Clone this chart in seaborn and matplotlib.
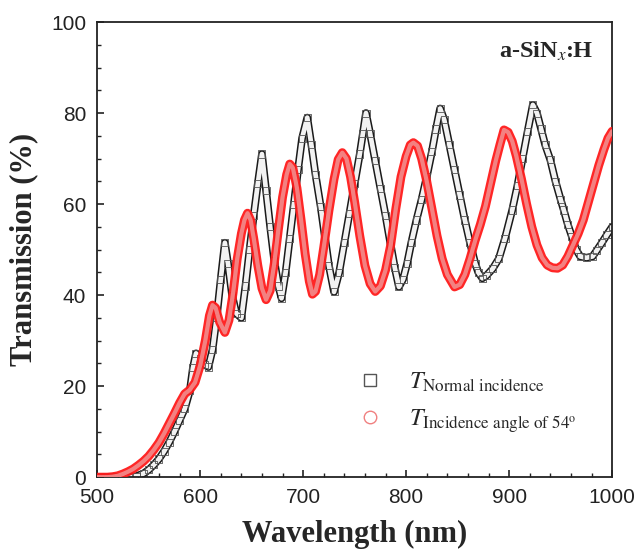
"""Transmission spectra of a-SiNx:H film at normal incidence and at 54 deg."""
import numpy as np
import pandas as pd

import matplotlib
matplotlib.use("Agg")
import matplotlib.pyplot as plt
import seaborn as sns
from matplotlib.ticker import MultipleLocator
from matplotlib.lines import Line2D

# values (wavelength in nm, transmission in %)
WL_NORMAL = [500, 510, 520, 530, 538, 545, 550, 555, 560, 565, 570, 575, 580, 585,
             590, 593, 596, 600, 604, 608, 612, 616, 620, 624, 627, 631, 635, 640,
             644, 648, 652, 656, 660, 664, 668, 672, 676, 679, 683, 687, 691, 695,
             699, 704, 708, 712, 717, 721, 725, 730, 735, 740, 745, 750, 755, 758,
             761, 765, 770, 775, 780, 785, 789, 793, 797, 801, 805, 810, 815, 820,
             825, 829, 833, 837, 842, 847, 852, 857, 862, 867, 870, 874, 878, 884,
             890, 896, 903, 908, 913, 918, 923, 927, 931, 935, 940, 945, 950, 953,
             957, 961, 965, 969, 975, 981, 985, 990, 995, 1000]
T_NORMAL = [0.0, 0.0, 0.0, 0.0, 0.2, 0.8, 1.6, 2.7, 4.0, 5.7, 7.7, 10.0, 12.5, 15.0,
            19.0, 24.0, 27.2, 26.0, 24.8, 24.2, 28.0, 35.0, 43.5, 51.5, 47.0, 40.0, 36.0, 35.0,
            42.0, 50.0, 57.5, 64.5, 71.0, 63.0, 55.0, 47.5, 42.0, 39.3, 45.0, 52.5, 60.0, 67.5,
            74.5, 79.0, 73.0, 66.5, 59.5, 53.0, 46.5, 40.7, 45.0, 51.5, 58.0, 64.5, 71.0, 75.5,
            80.0, 75.5, 69.5, 63.5, 57.5, 51.0, 46.0, 41.8, 43.5, 47.0, 51.5, 56.5, 61.0, 66.0,
            71.5, 76.5, 81.0, 78.5, 73.0, 67.5, 62.0, 56.5, 51.5, 47.0, 45.0, 43.7, 44.3, 45.8,
            48.0, 52.5, 58.7, 64.0, 70.0, 76.0, 81.8, 80.0, 76.5, 73.0, 69.7, 65.0, 61.0, 58.7,
            55.5, 52.8, 50.0, 48.5, 48.2, 48.5, 49.8, 51.5, 53.3, 55.0]

WL_54 = [500, 510, 515, 520, 525, 530, 535, 540, 545, 550, 555, 560, 565, 570, 575,
         580, 585, 590, 595, 600, 605, 609, 612, 615, 619, 624, 628, 632, 636, 640,
         643, 646, 649, 652, 656, 660, 664, 668, 672, 676, 680, 684, 687, 690, 694,
         698, 702, 706, 709, 712, 716, 720, 725, 730, 734, 738, 742, 746, 750, 755,
         760, 765, 770, 775, 780, 785, 790, 795, 800, 804, 807, 811, 815, 820, 825,
         830, 835, 840, 847, 852, 857, 862, 867, 872, 877, 882, 887, 891, 895, 899,
         903, 907, 912, 917, 922, 927, 932, 937, 942, 947, 952, 957, 962, 967, 972,
         977, 982, 987, 992, 996, 1000]
T_54 = [0.0, 0.0, 0.1, 0.3, 0.7, 1.2, 1.8, 2.6, 3.5, 4.6, 6.0, 7.6, 9.6, 11.8, 14.0,
        16.3, 18.3, 19.2, 20.8, 24.5, 30.0, 35.5, 37.8, 37.2, 34.0, 31.8, 34.5, 40.5, 48.0, 53.5,
        56.5, 58.0, 56.5, 52.5, 46.5, 41.5, 39.0, 41.0, 47.0, 54.5, 61.5, 66.5, 68.8, 68.0, 63.5,
        56.5, 49.0, 43.0, 40.2, 40.8, 44.5, 50.5, 58.5, 65.5, 69.8, 71.3, 70.0, 66.0, 60.5, 53.0,
        46.5, 42.5, 40.8, 42.0, 45.5, 51.0, 59.0, 66.0, 70.5, 73.0, 73.5, 72.8, 70.0, 65.0, 59.0,
        53.0, 48.0, 44.5, 41.8, 42.3, 44.5, 48.0, 52.0, 55.5, 59.5, 64.5, 69.5, 73.0, 76.3, 75.8,
        73.8, 70.5, 65.5, 60.0, 55.0, 51.0, 48.2, 46.6, 46.0, 45.9, 46.6, 48.5, 51.0, 53.5, 56.5,
        60.5, 64.5, 68.5, 72.0, 74.5, 76.0]

LABEL_NORMAL = r"$\mathit{T}_{\mathrm{Normal\ incidence}}$"
LABEL_54 = r"$\mathit{T}_{\mathrm{Incidence\ angle\ of\ 54^{o}}}$"

sns.set_style("ticks")
plt.rcParams.update({
    "font.family": ["Liberation Sans", "DejaVu Sans"],
    "mathtext.fontset": "stix",
    "axes.linewidth": 1.3, "axes.edgecolor": "#222222",
    "xtick.direction": "in", "ytick.direction": "in",
    "xtick.major.size": 5, "ytick.major.size": 5,
    "xtick.minor.size": 3, "ytick.minor.size": 3,
    "xtick.major.width": 1.2, "ytick.major.width": 1.2,
    "xtick.minor.width": 1.0, "ytick.minor.width": 1.0,
    "xtick.major.pad": 8, "ytick.major.pad": 8,
    "xtick.labelsize": 15, "ytick.labelsize": 15,
    "xtick.color": "#222222", "ytick.color": "#222222",
})

normal = pd.DataFrame({"wl": WL_NORMAL, "T": T_NORMAL})
oblique = pd.DataFrame({"wl": WL_54, "T": T_54})

fig = plt.figure(figsize=(6.35, 5.51), dpi=100)
ax = fig.add_axes([0.153, 0.134, 0.811, 0.826])

# normal incidence: overlapping hollow squares -> dark-edged pale band
sns.lineplot(data=normal, x="wl", y="T", color="#1a1a1a", lw=5.6, ax=ax, zorder=2)
sns.lineplot(data=normal, x="wl", y="T", color="#f2f2f2", lw=3.4, ax=ax, zorder=2.1)
sns.scatterplot(data=normal, x="wl", y="T", marker="s", s=26, facecolor="none",
                edgecolor="#555555", linewidth=0.6, ax=ax, zorder=2.2)

# 54 deg incidence: dense red circles -> thick red band with lighter core
sns.lineplot(data=oblique, x="wl", y="T", color="#ff1a1a", lw=6.4, alpha=0.95,
             ax=ax, zorder=4, solid_capstyle="round")
sns.lineplot(data=oblique, x="wl", y="T", color="#f29292", lw=3.0, alpha=0.85,
             ax=ax, zorder=5)

ax.set_xlim(500, 1000)
ax.set_ylim(0, 100)
ax.xaxis.set_major_locator(MultipleLocator(100))
ax.xaxis.set_minor_locator(MultipleLocator(20))
ax.yaxis.set_major_locator(MultipleLocator(20))
ax.yaxis.set_minor_locator(MultipleLocator(5))
ax.tick_params(which="both", top=False, right=False)
for s in ax.spines.values():
    s.set_visible(True)

ax.set_xlabel("Wavelength (nm)", fontsize=22, fontweight="bold",
              family="Liberation Serif", labelpad=9)
ax.set_ylabel("Transmission (%)", fontsize=22, fontweight="bold",
              family="Liberation Serif", labelpad=9)

ax.text(0.963, 0.935, r"a-SiN$_{\mathit{x}}$:H", transform=ax.transAxes,
        ha="right", va="center", fontsize=17.5, fontweight="bold",
        family="Liberation Serif")

handles = [Line2D([], [], marker="s", ls="none", mfc="none", mec="#555555", ms=8, mew=1.0),
           Line2D([], [], marker="o", ls="none", mfc="none", mec="#f08080", ms=9, mew=1.0)]
ax.legend(handles, [LABEL_NORMAL, LABEL_54], loc="center left",
          bbox_to_anchor=(0.482, 0.163), frameon=False, fontsize=17.5,
          handlelength=1.0, handletextpad=1.1, labelspacing=0.55, borderpad=0)

fig.savefig("out.png", dpi=100)
